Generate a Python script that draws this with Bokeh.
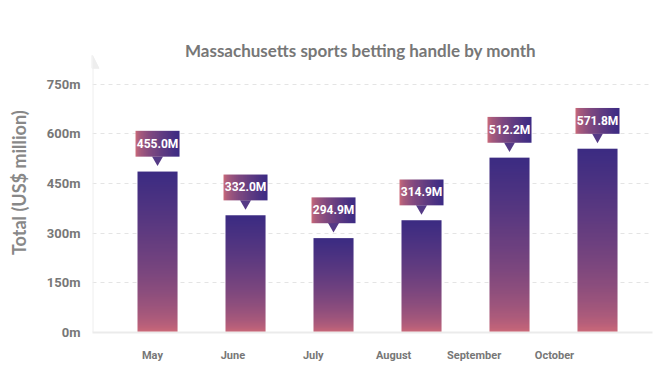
import numpy as np
from bokeh.plotting import figure
from bokeh.models import Range1d, LinearAxis, FixedTicker, Label, Arrow, NormalHead
from bokeh.core.properties import value
from bokeh.embed import file_html
from bokeh.resources import INLINE

# ---------------- data ----------------
months = ["May", "June", "July", "August", "September", "October"]
handle_labels = [455.0, 332.0, 294.9, 314.9, 512.2, 571.8]   # values printed in callouts (US$ million)
bar_heights = [486, 354, 285, 339, 528, 555]                  # bar tops as drawn on the y scale
y_ticks = [0, 150, 300, 450, 600, 750]
y_tick_labels = ["0m", "150m", "300m", "450m", "600m", "750m"]
title_text = "Massachusetts sports betting handle by month"
y_title = "Total  (US$ million)"

# ---------------- layout ----------------
W, H = 654, 364
frame_left, frame_right, frame_top, frame_bottom = 92, 652, 28, 334
y_end = 918
ypx = y_end / (frame_bottom - frame_top)   # data units per pixel

x_range = Range1d(-0.739, 5.625)
label_range = Range1d(-0.746, 6.219)

font = "Roboto"
grey = "#777777"

p = figure(width=W, height=H, x_range=x_range, y_range=Range1d(0, y_end),
           output_backend="svg", toolbar_location=None, x_axis_location=None,
           min_border_left=frame_left, min_border_right=W - frame_right,
           min_border_top=frame_top, min_border_bottom=H - frame_bottom,
           background_fill_color="white", border_fill_color="white",
           outline_line_color=None)
p.extra_x_ranges = {"labels": label_range}


def gradient(c0, c1, n, gamma):
    c0 = np.array([int(c0[i:i + 2], 16) for i in (1, 3, 5)], dtype=float)
    c1 = np.array([int(c1[i:i + 2], 16) for i in (1, 3, 5)], dtype=float)
    t = np.linspace(0, 1, n) ** gamma
    rgb = c0[None, :] + (c1 - c0)[None, :] * t[:, None]
    out = np.zeros((n, 4), dtype=np.uint8)
    out[:, :3] = np.round(rgb).astype(np.uint8)
    out[:, 3] = 255
    return out


# vertical gradient for bars (row 0 = bottom)
vg = gradient("#d46c78", "#3b2b82", 160, 0.55)
bar_img = vg.reshape(160, 1, 4).copy().view(np.uint32).reshape(160, 1)
# horizontal gradient for callouts
hg = gradient("#cc6b7a", "#3a2a84", 64, 0.6)
call_img = hg.reshape(1, 64, 4).copy().view(np.uint32).reshape(1, 64)

n = len(months)
idx = np.arange(n)
tops = np.array(bar_heights, dtype=float)
bar_w = 0.455
call_w = 0.5

p.image_rgba(image=[bar_img] * n, x=idx - bar_w / 2, y=[0] * n,
             dw=[bar_w] * n, dh=list(tops))

# callouts
p.scatter(x=idx, y=tops + 12 * ypx, marker="inverted_triangle", size=11,
          fill_color="#553a86", line_color=None)
p.image_rgba(image=[call_img] * n, x=idx - call_w / 2, y=tops + 15 * ypx,
             dw=[call_w] * n, dh=[26 * ypx] * n)
p.text(x=idx, y=tops + 28 * ypx, text=[f"{v:.1f}M" for v in handle_labels],
       text_color="white", text_font=value(font), text_font_style="bold",
       text_font_size="12px", text_align="center", text_baseline="middle")

# grid
p.xgrid.visible = False
p.ygrid.ticker = FixedTicker(ticks=y_ticks)
p.ygrid.grid_line_color = "#e4e4e4"
p.ygrid.grid_line_dash = "4 4"
p.ygrid.grid_line_width = 1

# y axis
yax = p.yaxis[0]
yax.ticker = FixedTicker(ticks=y_ticks)
yax.major_label_overrides = {t: l for t, l in zip(y_ticks, y_tick_labels)}
yax.axis_line_color = None
yax.major_tick_line_color = None
yax.minor_tick_line_color = None
yax.major_tick_in = 0
yax.major_tick_out = 0
yax.major_label_standoff = 12
yax.major_label_text_font = font
yax.major_label_text_font_style = "bold"
yax.major_label_text_font_size = "13px"
yax.major_label_text_color = grey
yax.axis_label = y_title
yax.axis_label_text_font = "Lato"
yax.axis_label_text_font_style = "bold"
yax.axis_label_text_font_size = "18px"
yax.axis_label_text_color = "#888888"
yax.axis_label_standoff = 14

# x axis (month labels)
xax = LinearAxis(x_range_name="labels", ticker=FixedTicker(ticks=list(idx)))
xax.major_label_overrides = {int(i): m for i, m in zip(idx, months)}
xax.axis_line_color = "#ebebeb"
xax.axis_line_width = 2
xax.major_tick_line_color = None
xax.minor_tick_line_color = None
xax.major_tick_in = 0
xax.major_tick_out = 0
xax.major_label_standoff = 16
xax.major_label_text_font = font
xax.major_label_text_font_style = "bold"
xax.major_label_text_font_size = "11px"
xax.major_label_text_color = grey
p.add_layout(xax, "below")

# y axis arrow
p.add_layout(Arrow(end=NormalHead(size=13, fill_color="#eeeeee", line_color="#eeeeee"),
                   x_start=x_range.start, y_start=0,
                   x_end=x_range.start, y_end=(frame_bottom - 55) * ypx,
                   line_color="#eeeeee", line_width=2))

# title
p.add_layout(Label(x=(x_range.start + x_range.end) / 2, y=y_end,
                   x_offset=-12, y_offset=-22, text=title_text,
                   text_align="center", text_baseline="middle",
                   text_font="Lato", text_font_style="bold",
                   text_font_size="17px", text_color=grey))

open("out.html", "w").write(file_html(p, INLINE))
